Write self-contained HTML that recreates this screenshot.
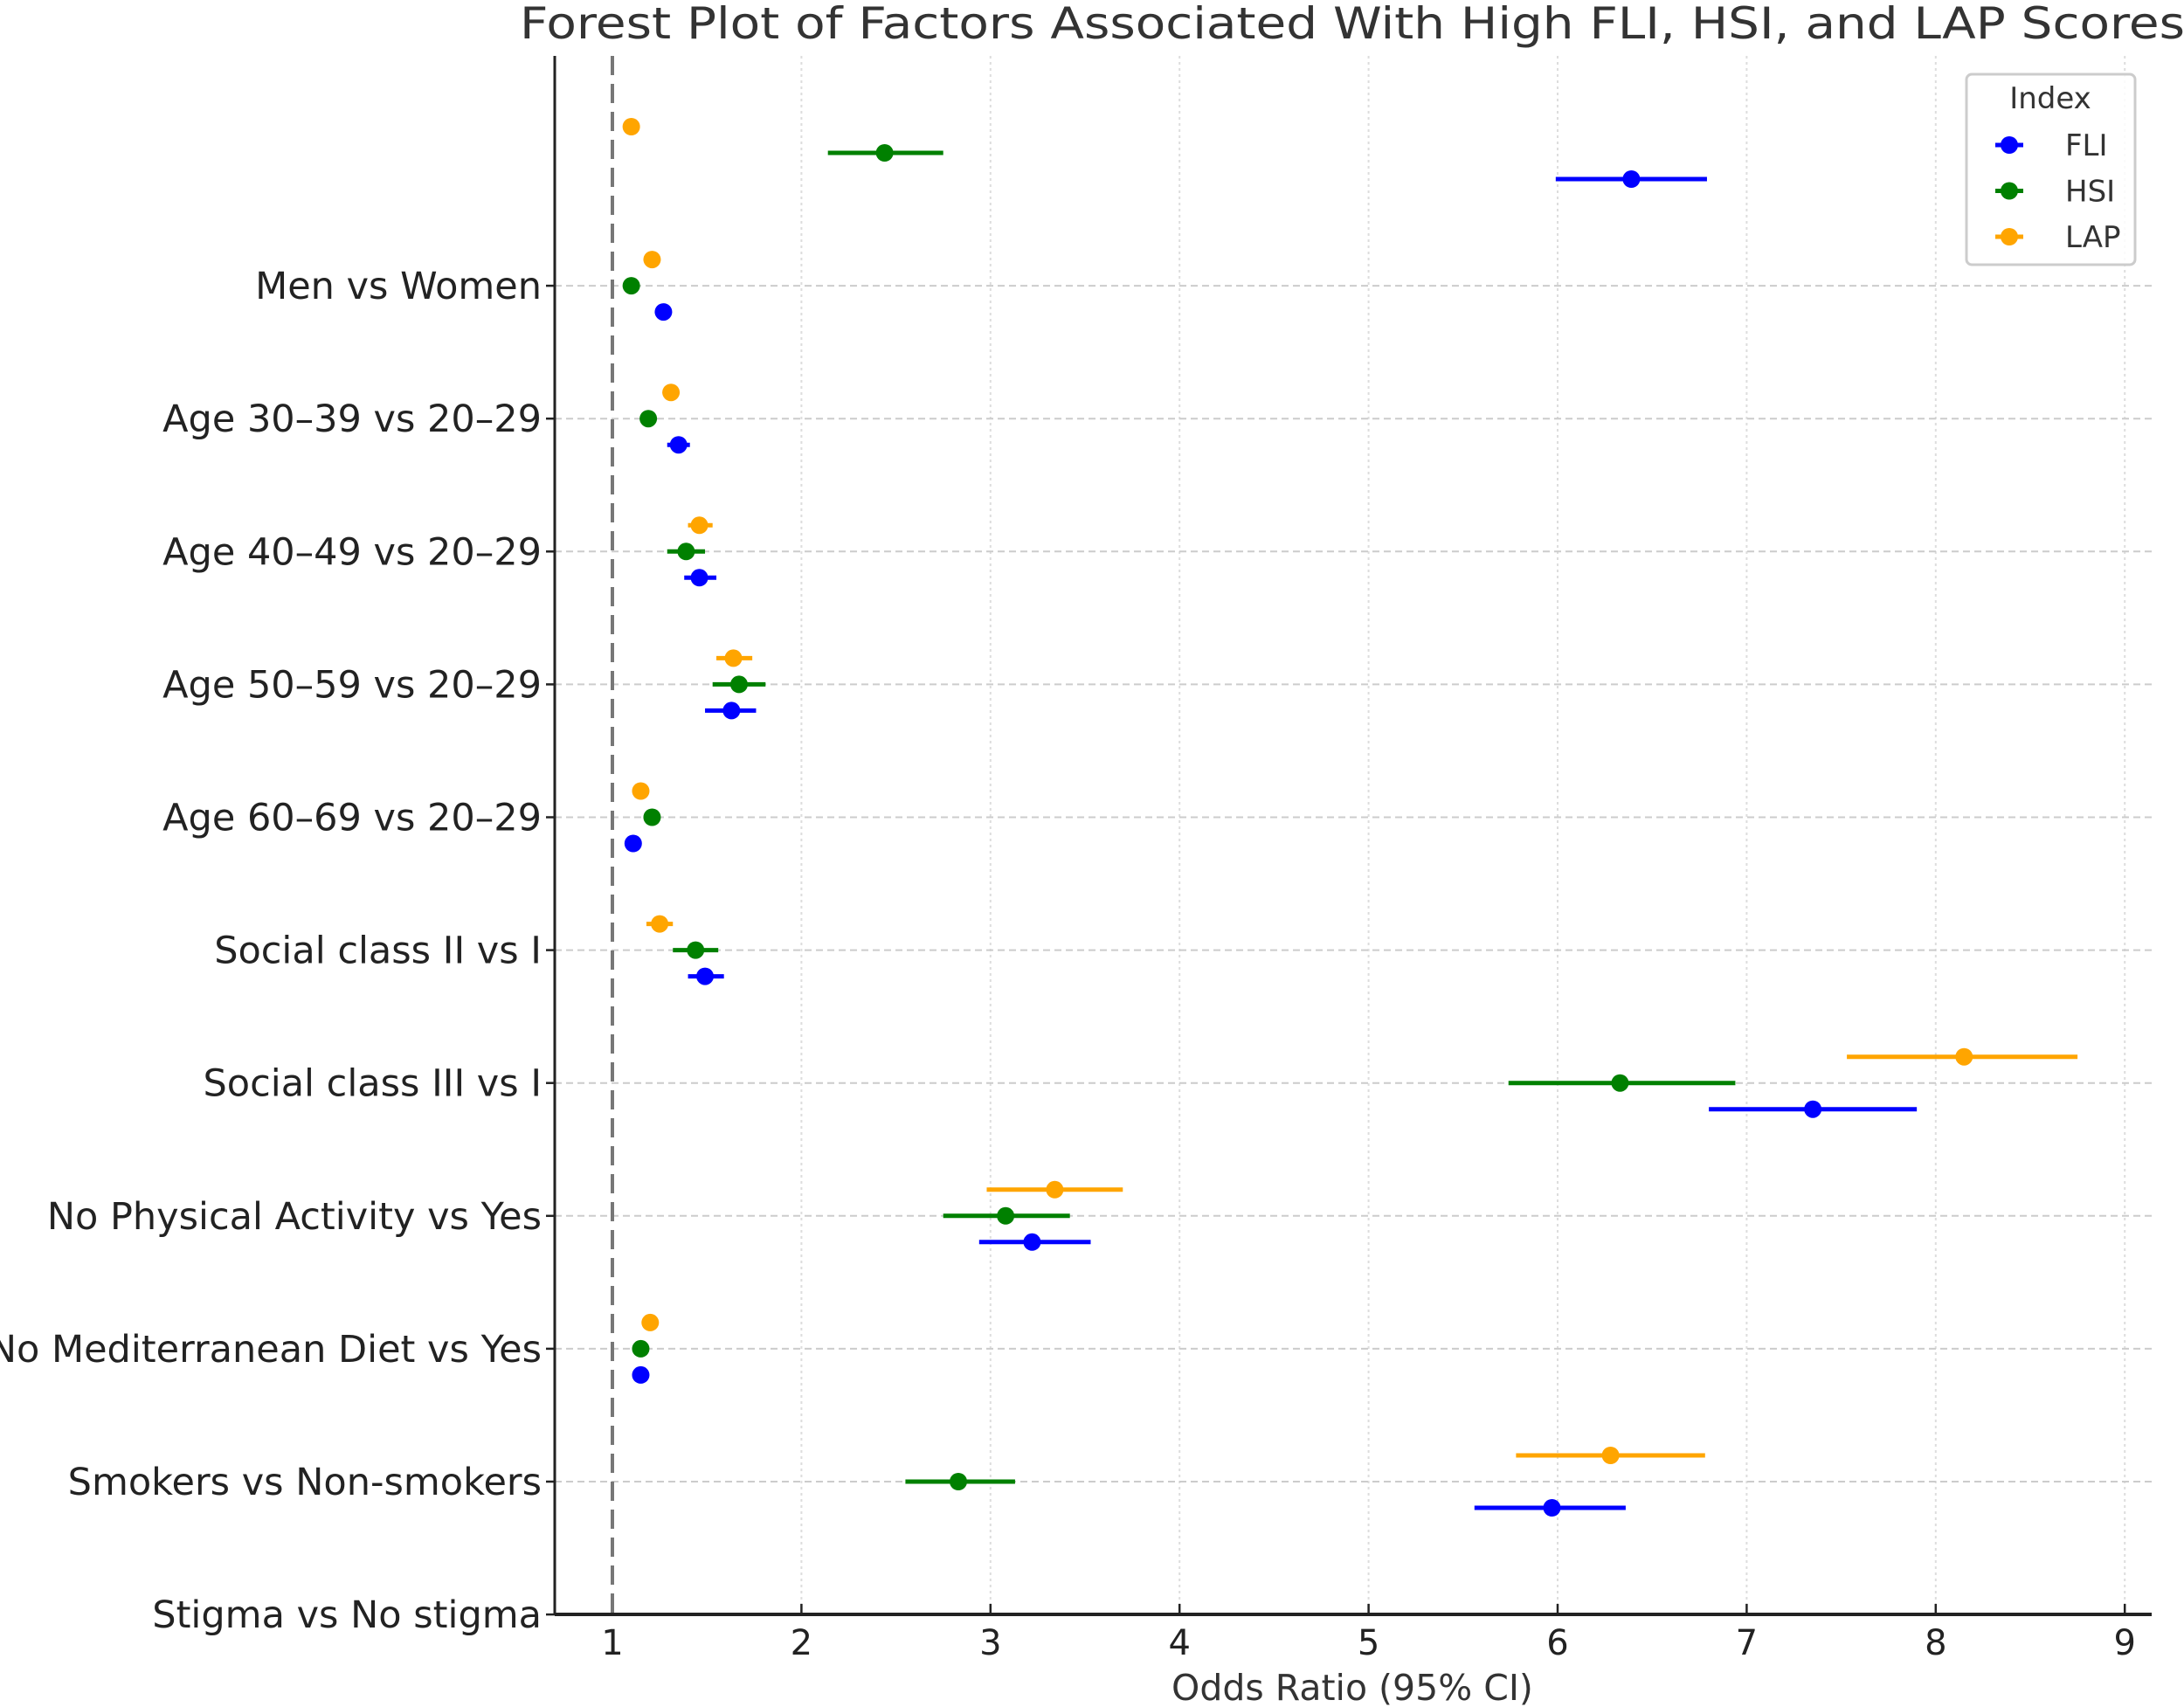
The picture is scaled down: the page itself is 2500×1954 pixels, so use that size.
<!DOCTYPE html>
<html><head><meta charset="utf-8"><style>
html,body{margin:0;padding:0;background:#fff;}
svg{display:block;font-family:"DejaVu Sans","Liberation Sans",sans-serif;}
</style></head><body>
<svg id="chart" width="2500" height="1954" viewBox="0 0 2500 1954" xmlns="http://www.w3.org/2000/svg">
<text x="1548" y="44" font-size="50" fill="#333" text-anchor="middle" textLength="1906" lengthAdjust="spacingAndGlyphs">Forest Plot of Factors Associated With High FLI, HSI, and LAP Scores</text>
<g id="grid"></g><g id="axes"></g><g id="marks"></g>
<g>
<rect x="2251" y="85" width="193" height="218" rx="6" fill="#fff" fill-opacity="0.85" stroke="#ccc" stroke-width="3"/>
<text x="2347" y="124" font-size="34" fill="#333" text-anchor="middle">Index</text>
<g id="legend-entries"></g>
</g>
</svg>
<script>
const categories=["Men vs Women","Age 30–39 vs 20–29","Age 40–49 vs 20–29","Age 50–59 vs 20–29","Age 60–69 vs 20–29","Social class II vs I","Social class III vs I","No Physical Activity vs Yes","No Mediterranean Diet vs Yes","Smokers vs Non-smokers","Stigma vs No stigma"];
const seriesNames=["FLI","HSI","LAP"];
const fliOR=[6.39,1.27,1.35,1.46,1.63,1.11,1.49,7.35,3.22,1.15,5.97];
const fliLo=[5.99,1.25,1.29,1.38,1.49,1.09,1.40,6.80,2.94,1.13,5.56];
const fliHi=[6.79,1.29,1.41,1.55,1.76,1.13,1.59,7.90,3.53,1.17,6.36];
const hsiOR=[2.44,1.10,1.19,1.39,1.67,1.21,1.44,6.33,3.08,1.15,2.83];
const hsiLo=[2.14,1.08,1.17,1.29,1.53,1.19,1.32,5.74,2.75,1.13,2.55];
const hsiHi=[2.75,1.12,1.21,1.49,1.81,1.23,1.56,6.94,3.42,1.17,3.13];
const lapOR=[1.10,1.21,1.31,1.46,1.64,1.15,1.25,8.15,3.34,1.20,6.28];
const lapLo=[1.08,1.19,1.29,1.40,1.55,1.13,1.18,7.53,2.98,1.18,5.78];
const lapHi=[1.12,1.23,1.33,1.53,1.74,1.17,1.32,8.75,3.70,1.22,6.78];
const xTicks=[1,2,3,4,5,6,7,8,9];
const colors=["#0000ff","#008000","#ffa500"];
const NS="http://www.w3.org/2000/svg";
const X0=701,XU=216.4,Y0=175,YU=152.1,L=635,R=2463,T=64,B=1848;
function xs(v){return X0+XU*(v-1);}
function ys(i){return Y0+YU*i;}
function mk(parent,tag,attrs,text){const e=document.createElementNS(NS,tag);for(const k in attrs)e.setAttribute(k,attrs[k]);if(text!==undefined)e.textContent=text;parent.appendChild(e);return e;}
const grid=document.getElementById('grid'),axes=document.getElementById('axes'),marks=document.getElementById('marks');
xTicks.forEach(t=>{
  if(t>1){const g=mk(grid,'line',{x1:xs(t),x2:xs(t),y1:T,y2:B,stroke:'#ddd','stroke-width':2,'stroke-dasharray':'3,4'});
  
  }
  const tk=mk(axes,'line',{x1:xs(t),x2:xs(t),y1:B,y2:B-12,stroke:'#222','stroke-width':2.5});
  
  
  const tl=mk(axes,'text',{x:xs(t),y:1894,'font-size':40,fill:'#222','text-anchor':'middle'},String(t));
  
  
});
categories.forEach((c,i)=>{
  const y=ys(i+1);
  if(i<categories.length-1){const g=mk(grid,'line',{x1:L,x2:R,y1:y,y2:y,stroke:'#ccc','stroke-width':2,'stroke-dasharray':'8,5'});
  
  }
  const tk=mk(axes,'line',{x1:L-10,x2:L,y1:y,y2:y,stroke:'#222','stroke-width':2.5});
  
  
  const tl=mk(axes,'text',{x:620,y:y+15,'font-size':43,fill:'#222','text-anchor':'end'},c);
  
  
});
const ref=mk(axes,'line',{x1:xs(1),x2:xs(1),y1:T,y2:B,stroke:'#777','stroke-width':4,'stroke-dasharray':'22,10'});


const ya=mk(axes,'line',{x1:L,x2:L,y1:T,y2:B,stroke:'#222','stroke-width':3});


const xa=mk(axes,'line',{x1:L,x2:R,y1:B,y2:B,stroke:'#222','stroke-width':4});


const xt=mk(axes,'text',{x:1548,y:1946,'font-size':41,fill:'#333','text-anchor':'middle'},'Odds Ratio (95% CI)');


const data=[[fliOR,fliLo,fliHi],[hsiOR,hsiLo,hsiHi],[lapOR,lapLo,lapHi]];
const offs=[30,0,-30];
data.forEach((d,s)=>{
  d[0].forEach((v,i)=>{
    const y=ys(i)+offs[s];
    const ln=mk(marks,'line',{x1:xs(d[1][i]),x2:xs(d[2][i]),y1:y,y2:y,stroke:colors[s],'stroke-width':5});
    
    
    const p=mk(marks,'circle',{cx:xs(v),cy:y,r:10,fill:colors[s]});
    
    
  });
});
const le=document.getElementById('legend-entries');
seriesNames.forEach((n,s)=>{
  const y=166+s*52.5;
  const l=mk(le,'line',{x1:2284,x2:2316,y1:y,y2:y,stroke:colors[s],'stroke-width':5});
  
  
  const c=mk(le,'circle',{cx:2300,cy:y,r:10,fill:colors[s]});
  
  
  const t=mk(le,'text',{x:2364,y:y+12,'font-size':34,fill:'#333'},n);
  
  
});
</script>
</body></html>
